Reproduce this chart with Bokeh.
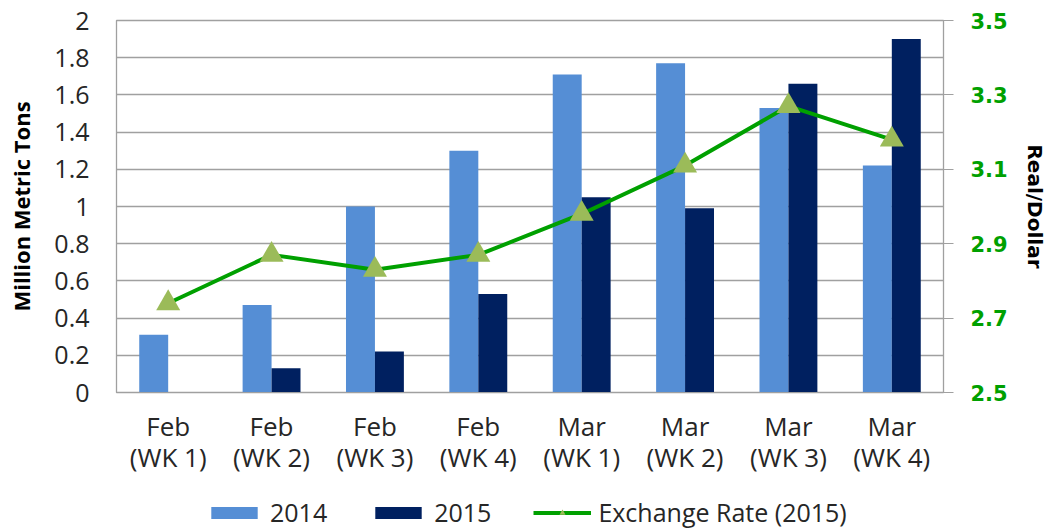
from bokeh.plotting import figure
from bokeh.layouts import column
from bokeh.models import (ColumnDataSource, FactorRange, Range1d, LinearAxis, FixedTicker,
                          NumeralTickFormatter, Legend, LegendItem)
from bokeh.transform import dodge
from bokeh.embed import file_html
from bokeh.resources import INLINE

categories = ["Feb\n(WK 1)", "Feb\n(WK 2)", "Feb\n(WK 3)", "Feb\n(WK 4)",
              "Mar\n(WK 1)", "Mar\n(WK 2)", "Mar\n(WK 3)", "Mar\n(WK 4)"]
v2014 = [0.31, 0.47, 1.00, 1.30, 1.71, 1.77, 1.53, 1.22]
v2015 = [0.0, 0.13, 0.22, 0.53, 1.05, 0.99, 1.66, 1.90]
rate_2015 = [2.74, 2.87, 2.83, 2.87, 2.98, 3.11, 3.27, 3.18]
left_ticks = [0, 0.2, 0.4, 0.6, 0.8, 1.0, 1.2, 1.4, 1.6, 1.8, 2.0]
right_ticks = [2.5, 2.7, 2.9, 3.1, 3.3, 3.5]
series_names = ["2014", "2015", "Exchange Rate (2015)"]

C2014, C2015, CLINE, CMARK = "#558ED5", "#002060", "#00A000", "#9BBB59"
GRAY = "#A0A0A0"

src = ColumnDataSource(dict(cat=categories, v2014=v2014, v2015=v2015, rate=rate_2015))

p = figure(width=1052, height=492, x_range=FactorRange(*categories), y_range=Range1d(0, 2),
           output_backend="svg", toolbar_location=None,
           min_border_left=116, min_border_right=109, min_border_top=20, min_border_bottom=100)
p.extra_y_ranges = {"rate": Range1d(2.5, 3.5)}
p.background_fill_color = "white"
p.outline_line_color = GRAY
p.outline_line_width = 1.3

p.xgrid.visible = False
p.ygrid.ticker = FixedTicker(ticks=left_ticks)
p.ygrid.grid_line_color = GRAY
p.ygrid.grid_line_width = 1.3

p.vbar(x=dodge("cat", -0.14, range=p.x_range), top="v2014", width=0.28, source=src,
       fill_color=C2014, line_color=None)
p.vbar(x=dodge("cat", 0.14, range=p.x_range), top="v2015", width=0.28, source=src,
       fill_color=C2015, line_color=None)
p.line(x="cat", y="rate", source=src, y_range_name="rate", line_color=CLINE, line_width=4)
p.scatter(x="cat", y="rate", source=src, y_range_name="rate", marker="triangle", size=24,
          fill_color=CMARK, line_color=None)

# left axis
ya = p.yaxis[0]
ya.ticker = FixedTicker(ticks=left_ticks)
ya.formatter = NumeralTickFormatter(format="0.[0]")
ya.major_tick_out = 0
ya.major_tick_in = 0
ya.minor_tick_out = 0
ya.minor_tick_in = 0
ya.axis_line_color = GRAY
ya.major_label_standoff = 27
ya.major_label_text_font = "Open Sans"
ya.major_label_text_font_size = "25px"
ya.major_label_text_color = "#262626"
ya.axis_label = "Million Metric Tons"
ya.axis_label_text_font = "Open Sans"
ya.axis_label_text_font_style = "bold"
ya.axis_label_text_font_size = "22px"
ya.axis_label_text_color = "black"
ya.axis_label_standoff = 15

# x axis
xa = p.xaxis[0]
xa.major_tick_out = 0
xa.major_tick_in = 0
xa.axis_line_color = GRAY
xa.major_label_standoff = 15
xa.major_label_text_font = "Open Sans"
xa.major_label_text_font_size = "26px"
xa.major_label_text_line_height = 0.88
xa.major_label_text_color = "#262626"

# right axis
ra = LinearAxis(y_range_name="rate", ticker=FixedTicker(ticks=right_ticks),
                formatter=NumeralTickFormatter(format="0.0"))
ra.axis_line_color = GRAY
ra.major_tick_line_color = GRAY
ra.major_tick_out = 10
ra.major_tick_in = 0
ra.minor_tick_out = 0
ra.minor_tick_in = 0
ra.major_label_standoff = 17
ra.major_label_text_font = "DejaVu Sans"
ra.major_label_text_font_style = "bold"
ra.major_label_text_font_size = "21px"
ra.major_label_text_color = "#00A000"
ra.axis_label = "Real/Dollar"
ra.axis_label_text_font = "DejaVu Sans"
ra.axis_label_text_font_style = "bold"
ra.axis_label_text_font_size = "20px"
ra.axis_label_text_color = "black"
ra.axis_label_standoff = 12
p.add_layout(ra, "right")

# legend strip below the chart (its own small figure; proxies sit outside its visible range)
lf = figure(width=1052, height=37, x_range=Range1d(0, 1), y_range=Range1d(0, 1),
            x_axis_type=None, y_axis_type=None, output_backend="svg", toolbar_location=None,
            min_border=0, outline_line_color=None)
lf.grid.visible = False
r1 = lf.vbar(x=[-10], top=[-10], width=0.1, fill_color=C2014, line_color=None)
r2 = lf.vbar(x=[-10], top=[-10], width=0.1, fill_color=C2015, line_color=None)
r3 = lf.line(x=[-10, -9], y=[-10, -10], line_color=CLINE, line_width=4)
r4 = lf.scatter(x=[-10], y=[-10], marker="triangle", size=24, fill_color=CMARK, line_color=None)
legend = Legend(items=[LegendItem(label=series_names[0], renderers=[r1]),
                       LegendItem(label=series_names[1], renderers=[r2]),
                       LegendItem(label=series_names[2], renderers=[r3, r4])],
                orientation="horizontal", location=(89, 0),
                glyph_width=58, glyph_height=15, label_standoff=7, spacing=42,
                padding=0, margin=0, border_line_color=None, background_fill_alpha=0,
                label_text_font="Open Sans", label_text_font_size="25px",
                label_text_color="#262626")
lf.add_layout(legend, "center")

layout = column(p, lf, spacing=0)
open("out.html", "w").write(file_html(layout, INLINE))
